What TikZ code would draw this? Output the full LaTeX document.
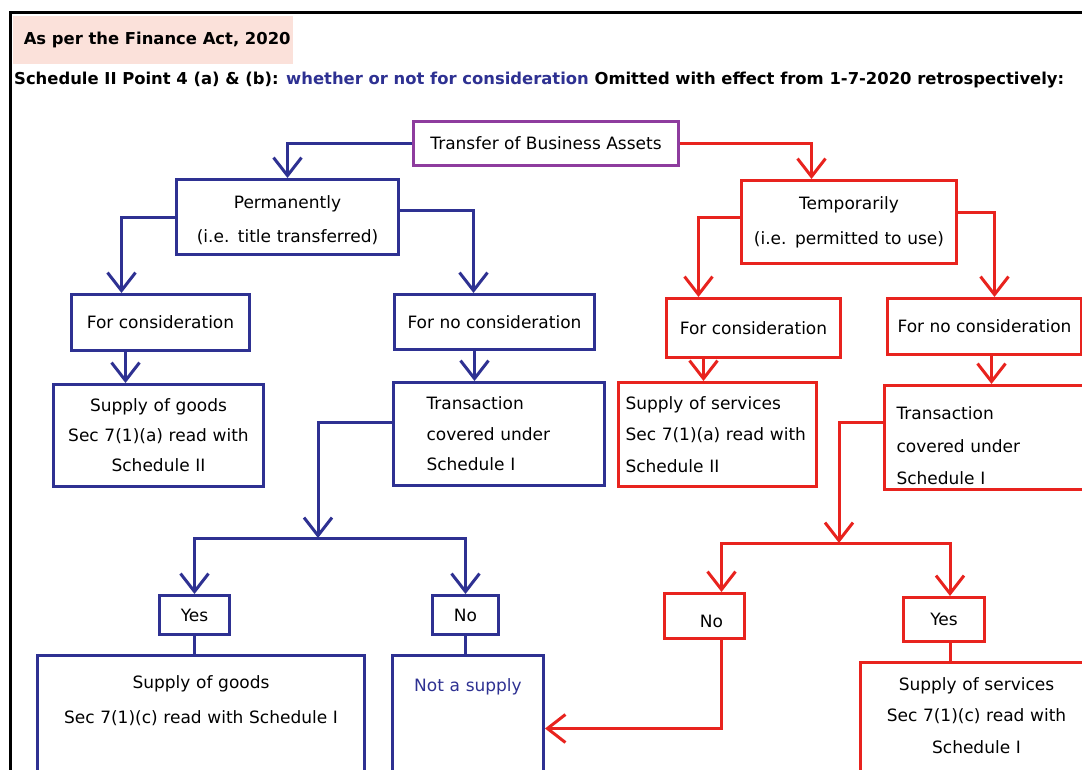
\documentclass[tikz,border=0pt]{standalone}
\usepackage{fontspec}
\setmainfont{DejaVu Sans}
\usetikzlibrary{arrows.meta}
\definecolor{fblue}{HTML}{2E3192}
\definecolor{fred}{HTML}{E8231E}
\definecolor{fpurple}{HTML}{8E3C9E}
\definecolor{fpink}{HTML}{FBE1DA}
% invisible struts that pad a text block above or below
\newcommand\padtop[1]{\rule{0pt}{#1}}
\newcommand\padbot[1]{\rule[-#1]{0pt}{#1}}

\begin{document}
\begin{tikzpicture}[x=1pt,y=-1pt,
  box/.style={draw, line width=3pt, inner xsep=4pt, inner ysep=0pt,
    anchor=north west, align=center, font=\fontsize{17}{31}\selectfont},
  bbox/.style={box, draw=fblue},
  rbox/.style={box, draw=fred},
  bline/.style={draw=fblue, line width=3pt},
  rline/.style={draw=fred, line width=3pt},
  barb/.style={-{Straight Barb[length=18pt,width=28pt]}},
  headfont/.style={font=\bfseries\fontsize{16.4}{19}\selectfont},
]
\useasboundingbox (0,0) rectangle (1082,769);
\clip (0,0) rectangle (1082,769);

% outer frame (top and left edges)
\draw[line width=3pt] (10,772) -- (10,12) -- (1085,12);

% heading
\node[fill=fpink, inner sep=0pt, minimum width=280pt, minimum height=48pt,
  anchor=north west, headfont] (act) at (13,16) {\hspace*{8pt}As per the Finance Act, 2020};
\node[anchor=west, inner sep=0pt, headfont] (sched) at (14,80)
  {Schedule II Point 4 (a) \& (b): \textcolor{fblue}{whether or not for consideration} Omitted with effect from 1-7-2020 retrospectively:};

% top level
\node[box, draw=fpurple, minimum width=265pt, minimum height=44pt] (tr) at (412,120) {Transfer of Business Assets};

\node[bbox, minimum width=222pt, minimum height=75pt, text width=214pt,
  font=\fontsize{17}{34}\selectfont] (perm) at (175,178) {\padtop{20pt}Permanently\\(i.e. title transferred)};
\node[rbox, minimum width=215pt, minimum height=83pt, text width=207pt,
  font=\fontsize{17}{35}\selectfont] (temp) at (740,179) {Temporarily\\(i.e. permitted to use)};

% consideration level
\node[bbox, minimum width=178pt, minimum height=56pt] (bfc) at (70,293) {For consideration};
\node[bbox, minimum width=200pt, minimum height=55pt] (bfnc) at (393,293) {For no consideration};
\node[rbox, minimum width=174pt, minimum height=59pt] (rfc) at (665,297) {For consideration};
\node[rbox, minimum width=194pt, minimum height=56pt] (rfnc) at (886,297) {For no consideration};

% outcome level
\node[bbox, minimum width=210pt, minimum height=102pt, text width=202pt,
  font=\fontsize{17}{30}\selectfont] (bsg) at (52,383) {Supply of goods\\Sec 7(1)(a) read with\\Schedule II};
\node[bbox, minimum width=211pt, minimum height=103pt, text width=145pt, inner xsep=33pt,
  align=left, font=\fontsize{17}{30.5}\selectfont] (tb) at (392,381) {Transaction\\covered under\\Schedule I};
\node[rbox, minimum width=198pt, minimum height=104pt, text width=184pt, inner xsep=7pt,
  align=left, font=\fontsize{17}{31.5}\selectfont] (rss) at (617,381)
  {Supply of services\\\mbox{Sec 7(1)(a) read with}\\Schedule II};
\node[rbox, minimum width=212pt, minimum height=104pt, text width=188pt, inner xsep=12pt,
  align=left, font=\fontsize{17}{32.5}\selectfont] (rtr) at (883,384)
  {\padtop{30pt}Transaction\\covered under\\Schedule I};

% yes / no
\node[bbox, minimum width=70pt, minimum height=39pt] (byes) at (158,594) {Yes};
\node[bbox, minimum width=66pt, minimum height=39pt] (bno) at (431,594) {No};
\node[rbox, minimum width=80pt, minimum height=45pt, text height=24pt] (rno) at (663,592) {\hspace*{14pt}No};
\node[rbox, minimum width=81pt, minimum height=44pt] (ryes) at (902,596) {Yes};

% final level
\node[bbox, minimum width=327pt, minimum height=146pt, text width=319pt,
  font=\fontsize{17}{35}\selectfont] (bsg2) at (36,654)
  {Supply of goods\\Sec 7(1)(c) read with Schedule I\padbot{58pt}};
\node[bbox, minimum width=151pt, minimum height=146pt, text width=143pt, text=fblue] (nas) at (391,654)
  {Not a supply\padbot{87pt}};
\node[rbox, minimum width=232pt, minimum height=140pt, text width=224pt,
  font=\fontsize{17}{31.5}\selectfont] (rss2) at (859,661)
  {Supply of services\\Sec 7(1)(c) read with\\Schedule I\padbot{34pt}};

% connectors: first split
\draw[bline, barb] (tr.west) -| (perm.north);
\draw[rline, barb] (tr.east) -| ([xshift=-37.5pt]temp.north);

\draw[bline, barb] (perm.west) -| ([xshift=-39pt]bfc.north);
\draw[bline, barb] ([yshift=6.5pt]perm.east) -| ([xshift=-21pt]bfnc.north);
\draw[rline, barb] ([yshift=5pt]temp.west) -| ([xshift=-55pt]rfc.north);
\draw[rline, barb] ([yshift=10pt]temp.east) -| ([xshift=10pt]rfnc.north);

\draw[bline, barb] ([xshift=-35pt]bfc.south) -- ([xshift=-35pt]bfc.south |- bsg.north);
\draw[bline, barb] ([xshift=-20pt]bfnc.south) -- ([xshift=-20pt]bfnc.south |- tb.north);
\draw[rline, barb] ([xshift=-50pt]rfc.south) -- ([xshift=-50pt]rfc.south |- rss.north);
\draw[rline, barb] ([xshift=7pt]rfnc.south) -- ([xshift=7pt]rfnc.south |- rtr.north);

% connectors: schedule I test
\coordinate (bj) at (318,538);
\draw[bline, barb] ([yshift=11.5pt]tb.west) -| (bj);
\draw[bline, barb] (bj) -| (byes.north);
\draw[bline, barb] (bj) -| (bno.north);
\draw[bline] (byes.south) -- (byes.south |- bsg2.north);
\draw[bline] (bno.south) -- (bno.south |- nas.north);

\coordinate (rj) at (839,543);
\draw[rline, barb] ([yshift=15pt]rtr.west) -| (rj);
\draw[rline, barb] (rj) -| ([xshift=17pt]rno.north);
\draw[rline, barb] (rj) -| ([xshift=6pt]ryes.north);
\draw[rline, barb] ([xshift=17pt]rno.south) |- (nas.east);
\draw[rline] ([xshift=6pt]ryes.south) -- ([xshift=6pt]ryes.south |- rss2.north);
\end{tikzpicture}
\end{document}
